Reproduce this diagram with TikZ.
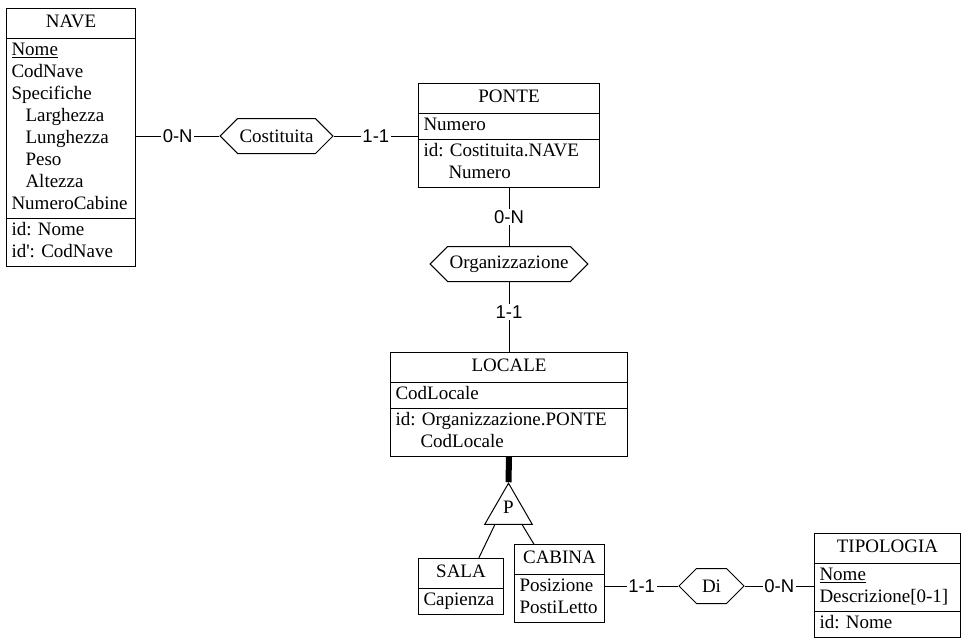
\documentclass[tikz,border=0pt]{standalone}
\usepackage{fontspec}
\setmainfont{Liberation Serif}
\newfontfamily\cardfont{Liberation Sans}
\usetikzlibrary{calc,shapes.multipart,shapes.symbols,shapes.geometric}

\newcommand{\tstrut}{\rule[-8.6pt]{0pt}{26pt}}
\newcommand{\etitle}[1]{\hbox to \hsize{\hfil\tstrut#1\hfil}}
\frenchspacing

\begin{document}
\begin{tikzpicture}[
  x=1pt, y=-1pt,
  every node/.style={
    font=\fontsize{19}{22}\selectfont,
    text=black
  },
  entity/.style={
    draw=black,
    line width=1pt,
    fill=white,
    rectangle split,
    rectangle split parts=#1,
    anchor=north west,
    align=left,
    inner xsep=5pt,
    inner ysep=1.5pt
  },
  entity/.default=3,
  relation/.style={
    draw=black,
    line width=1pt,
    fill=white,
    signal,
    signal to=west and east,
    signal pointer angle=90,
    minimum height=35pt,
    inner xsep=2pt,
    inner ysep=0pt
  },
  isa/.style={
    draw=black,
    line width=1pt,
    fill=white,
    regular polygon,
    regular polygon sides=3,
    minimum size=53pt,
    inner sep=0pt
  },
  card/.style={
    font=\cardfont\fontsize{18.5}{20}\selectfont,
    fill=white,
    inner sep=1.5pt
  },
  link/.style={
    draw=black,
    line width=1pt
  }
]
  \useasboundingbox (0,0) rectangle (965,643);

  % entities
  \node[entity, text width=119pt] (nave) at (6,8)
    {\etitle{NAVE}
     \nodepart{two}\strut\underline{Nome}\\
     CodNave\\
     Specifiche\\
     \hspace*{14pt}Larghezza\\
     \hspace*{14pt}Lunghezza\\
     \hspace*{14pt}Peso\\
     \hspace*{14pt}Altezza\\
     NumeroCabine\strut
     \nodepart{three}\strut id: Nome\\
     id\textquotesingle: CodNave\strut};
  \node[entity, text width=171pt] (ponte) at (418,83)
    {\etitle{PONTE}
     \nodepart{two}\strut Numero\strut
     \nodepart{three}\strut id: Costituita.NAVE\\
     \hspace*{25pt}Numero\strut};
  \node[entity, text width=227pt] (locale) at (390,352)
    {\etitle{LOCALE}
     \nodepart{two}\strut CodLocale\strut
     \nodepart{three}\strut id: Organizzazione.PONTE\\
     \hspace*{25pt}CodLocale\strut};
  \node[entity=2, text width=75pt] (sala) at (418,558)
    {\etitle{SALA}
     \nodepart{two}\strut Capienza\strut};
  \node[entity=2, text width=80pt] (cabina) at (514,544)
    {\etitle{CABINA}
     \nodepart{two}\strut Posizione\\
     PostiLetto\strut};
  \node[entity, text width=136pt] (tipologia) at (814,533)
    {\etitle{TIPOLOGIA}
     \nodepart{two}\strut\underline{Nome}\\
     Descrizione[0-1]\strut
     \nodepart{three}\strut id: Nome\strut};

  % relationships
  \node[relation] (costituita) at (276.5,136) {Costituita};
  \node[relation] (organizzazione) at (509,264) {Organizzazione};
  \node[relation, minimum width=65pt] (di) at (711.5,586) {Di};

  % generalization
  \node[isa] (gen) at (508.5,510.7) {\raisebox{7pt}{P}};

  \draw[link] (costituita.west -| nave.east) -- node[card] {0-N} (costituita.west);
  \draw[link] (costituita.east) -- node[card] {1-1} (costituita.east -| ponte.west);
  \draw[link] (ponte.south) -- node[card] {0-N} (organizzazione.north -| ponte.south);
  \draw[link] (organizzazione.south -| locale.north) -- node[card, pos=0.43] {1-1} (locale.north);
  \draw[link] (di.west -| cabina.east) -- node[card] {1-1} (di.west);
  \draw[link] (di.east) -- node[card] {0-N} (di.east -| tipologia.west);

  \draw[link, line width=6pt] (locale.south) -- (gen.corner 1);
  \draw[link] ($(gen.corner 2)!0.22!(gen.corner 3)$) -- (sala.58);
  \draw[link] ($(gen.corner 2)!0.78!(gen.corner 3)$) -- (cabina.123);
\end{tikzpicture}
\end{document}
